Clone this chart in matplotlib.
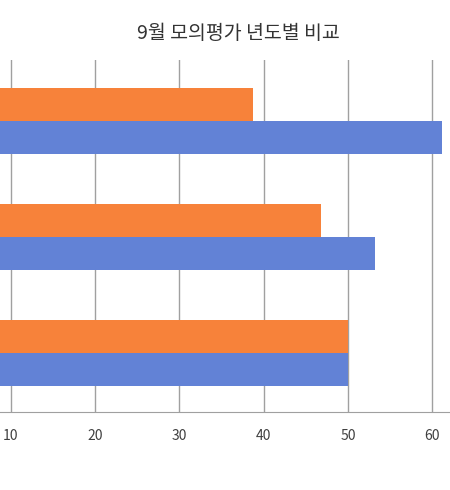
import matplotlib
matplotlib.use("Agg")
import matplotlib.pyplot as plt
import numpy as np

plt.rcParams["font.family"] = ["Noto Sans CJK KR", "DejaVu Sans"]

groups = ["A", "B", "C"]
orange_vals = [38.7, 46.8, 50.0]
blue_vals = [61.2, 53.2, 50.0]
xticks = [10, 20, 30, 40, 50, 60]

fig = plt.figure(figsize=(4.5, 4.9), dpi=100)
ax = fig.add_axes([0.0, 0.159, 1.0, 0.719])

y = np.arange(len(groups))
h = 0.284
ax.barh(y - h / 2, orange_vals, height=h, color="#F7823A", zorder=3)
ax.barh(y + h / 2, blue_vals, height=h, color="#6282D6", zorder=3)

ax.set_xlim(8.7, 62.1)
ax.set_ylim(2.509, -0.526)
ax.set_xticks(xticks)
ax.set_yticks([])
ax.grid(axis="x", color="#A0A0A0", linewidth=1, zorder=0)
for s in ["top", "right", "left"]:
    ax.spines[s].set_visible(False)
ax.spines["bottom"].set_color("#A0A0A0")
ax.tick_params(axis="x", length=0, pad=12, labelsize=10, labelcolor="#404040")

fig.text(0.53, 0.932, "9월 모의평가 년도별 비교", ha="center", va="center",
         fontsize=14, color="#333333")

fig.savefig("out.png", dpi=100)
